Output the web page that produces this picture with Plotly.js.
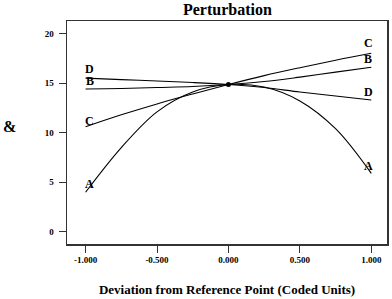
<!DOCTYPE html>
<html><head><meta charset="utf-8">
<script src="https://cdn.plot.ly/plotly-3.0.1.min.js"></script>
<style>html,body{margin:0;padding:0;background:#fff}#chart{width:392px;height:299px}</style>
</head><body><div id="chart"></div>
<script>
// Coded deviation from reference point
const xDev = [-1, -0.75, -0.5, -0.25, 0, 0.25, 0.5, 0.75, 1];
// Response for each factor
const seriesA = [4.0, 8.5, 12.1, 14.1, 14.85, 14.6, 13.2, 10.4, 5.9];
const seriesB = [14.4, 14.45, 14.55, 14.65, 14.85, 15.15, 15.6, 16.1, 16.6];
const seriesC = [10.6, 11.8, 12.9, 13.9, 14.85, 15.75, 16.55, 17.3, 18.0];
const seriesD = [15.5, 15.35, 15.2, 15.05, 14.85, 14.55, 14.1, 13.7, 13.3];
const seriesNames = ["A", "B", "C", "D"];
// label anchor points (left end, right end)
const labelLeftX = [-0.97, -0.97, -0.97, -0.97];
const labelLeftY = [4.8, 15.2, 11.2, 16.4];
const labelRightX = [0.98, 0.98, 0.98, 0.98];
const labelRightY = [6.6, 17.4, 19.0, 14.1];
const refPoint = {x: [0], y: [14.85]};
const yTicks = [0, 5, 10, 15, 20];
const xTicks = [-1, -0.5, 0, 0.5, 1];
const xTickText = ["-1.000", "-0.500", "0.000", "0.500", "1.000"];

const F = "Liberation Serif, Times New Roman, serif";
const allY = [seriesA, seriesB, seriesC, seriesD];
const traces = allY.map((ys, i) => ({
  x: xDev, y: ys, type: "scatter", mode: "lines", name: seriesNames[i],
  line: {color: "#000", width: 1.1, shape: "spline", smoothing: 1}
}));
traces.push({x: refPoint.x, y: refPoint.y, type: "scatter", mode: "markers",
  marker: {color: "#000", size: 5}});

const ann = [];
seriesNames.forEach((n, i) => {
  ann.push({x: labelLeftX[i], y: labelLeftY[i], text: n, showarrow: false,
    font: {family: F, size: 12, color: "#000", weight: "bold"}});
  ann.push({x: labelRightX[i], y: labelRightY[i], text: n, showarrow: false,
    font: {family: F, size: 12, color: "#000", weight: "bold"}});
});
ann.push({xref: "paper", yref: "paper", x: -0.205, y: 0.525, text: "&", showarrow: false,
  font: {family: F, size: 16, color: "#000", weight: "bold"}});

const layout = {
  width: 392, height: 299,
  margin: {l: 67, r: 5, t: 21, b: 55},
  paper_bgcolor: "#fff", plot_bgcolor: "#fff",
  showlegend: false,
  title: {text: "<b>Perturbation</b>", x: 0.58, xanchor: "center", y: 0.968, yanchor: "middle",
    font: {family: F, size: 16, color: "#000"}},
  xaxis: {range: [-1.13, 1.11], tickvals: xTicks, ticktext: xTickText,
    showgrid: false, zeroline: false, showline: true, mirror: true,
    linecolor: "#333", linewidth: 1.5, ticks: "outside", ticklen: 7, tickcolor: "#333",
    tickfont: {family: F, size: 9, color: "#000", weight: "bold"},
    title: {text: "<b>Deviation from Reference Point (Coded Units)</b>", standoff: 20,
      font: {family: F, size: 13, color: "#000"}}},
  yaxis: {range: [-1.21, 21.25], tickvals: yTicks,
    showgrid: false, zeroline: false, showline: true, mirror: true,
    linecolor: "#333", linewidth: 1.5, ticks: "outside", ticklen: 7, tickcolor: "#333",
    ticklabelstandoff: 3,
    tickfont: {family: F, size: 9, color: "#000", weight: "bold"}},
  annotations: ann
};
Plotly.newPlot("chart", traces, layout, {displayModeBar: false, staticPlot: true});
</script></body></html>
